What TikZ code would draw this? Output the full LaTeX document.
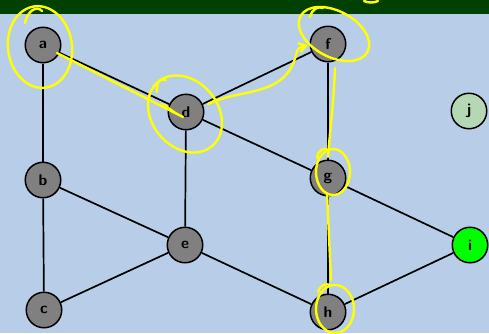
\documentclass[tikz,border=0pt]{standalone}
\usetikzlibrary{arrows.meta}
\definecolor{bg}{RGB}{184,206,232}
\definecolor{barcol}{RGB}{0,64,0}
\definecolor{nodegray}{RGB}{128,128,128}
\definecolor{jgreen}{RGB}{180,216,180}
\definecolor{igreen}{RGB}{0,255,0}
\definecolor{hlcol}{RGB}{255,255,0}
\begin{document}
\begin{tikzpicture}[x=1pt,y=-1pt,
  vtx/.style={circle,draw=black,line width=1.5pt,fill=nodegray,minimum size=35.5pt,inner sep=0pt,
    font=\sffamily\bfseries\fontsize{15.5}{15.5}\selectfont},
  edge/.style={line width=1.7pt,draw=black},
  hl/.style={draw=hlcol,line width=2.4pt,line cap=round,line join=round}]
\fill[bg] (0,0) rectangle (489,333);
\fill[barcol] (0,0) rectangle (489,13.5);
\useasboundingbox (0,0) rectangle (489,333);
% nodes
\node[vtx] (a) at (43,45) {a};
\node[vtx] (b) at (43,180) {b};
\node[vtx] (c) at (44,310) {c};
\node[vtx] (d) at (186,112) {d};
\node[vtx] (e) at (185,245) {e};
\node[vtx] (f) at (328,44) {f};
\node[vtx] (g) at (328,178) {g};
\node[vtx] (h) at (328,312) {h};
\node[vtx,fill=igreen] (i) at (470,245) {i};
\node[vtx,fill=jgreen] (j) at (469,111) {j};
% edges
\draw[edge] (a) -- (b);
\draw[edge] (a) -- (d);
\draw[edge] (b) -- (c);
\draw[edge] (b) -- (e);
\draw[edge] (c) -- (e);
\draw[edge] (d) -- (e);
\draw[edge] (d) -- (f);
\draw[edge] (d) -- (g);
\draw[edge] (f) -- (g);
\draw[edge] (g) -- (h);
\draw[edge] (e) -- (h);
\draw[edge] (g) -- (i);
\draw[edge] (h) -- (i);
% highlights
\draw[hl,rotate around={8:(40,47)}] (40,47) ellipse [x radius=32, y radius=41];
\draw[hl] (25,23) .. controls (27,11) and (37,5) .. (42,11);
\draw[hl] (57,53) -- (183,117);
\fill[hlcol] (160,103) -- (184,118) -- (165,104) -- cycle;
\draw[hl,rotate around={-50:(185,114)}] (185,114) ellipse [x radius=42, y radius=33];
\draw[hl] (157,92) .. controls (156,82) and (160,78) .. (166,80);
\draw[hl,-{Straight Barb[length=7pt,width=9pt]}] (208,104) .. controls (240,88) and (285,98) .. (296,55) .. controls (298,48) .. (308,45);
\draw[hl,rotate around={-28:(334,34)}] (334,34) ellipse [x radius=38, y radius=23];
\draw[hl] (310,17) .. controls (312,9) and (318,6) .. (323,8);
\draw[hl] (364,1) .. controls (368,3) and (374,3) .. (378,1);
\draw[hl] (335,68) .. controls (334,100) and (330,130) .. (328,157);
\draw[hl] (333,172) ellipse [x radius=17, y radius=23];
\draw[hl] (317,158) .. controls (318,150) and (324,147) .. (328,150);
\draw[hl] (327,193) -- (331,280);
\draw[hl] (335,309) ellipse [x radius=19, y radius=24];
\draw[hl] (318,292) .. controls (320,285) and (326,283) .. (330,285);
\end{tikzpicture}
\end{document}
